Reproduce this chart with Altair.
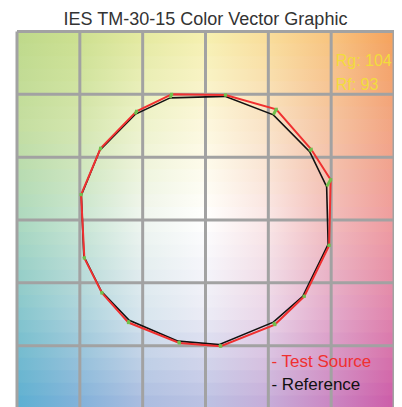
import altair as alt
import pandas as pd

# ---- data ----
test_x = [-0.270, 0.159, 0.563, 0.841, 0.996, 0.984, 0.786, 0.552, 0.121, -0.208, -0.613, -0.824, -0.964, -0.990, -0.835, -0.549]
test_y = [1.000, 0.995, 0.881, 0.563, 0.321, -0.202, -0.607, -0.832, -1.004, -0.978, -0.816, -0.581, -0.303, 0.202, 0.571, 0.865]
ref_x = [-0.282, 0.155, 0.540, 0.829, 0.964, 0.976, 0.774, 0.540, 0.107, -0.218, -0.607, -0.829, -0.968, -0.988, -0.841, -0.560]
ref_y = [0.972, 0.984, 0.837, 0.544, 0.266, -0.194, -0.607, -0.813, -0.992, -0.964, -0.798, -0.567, -0.290, 0.198, 0.556, 0.841]
grid_vals = [-1.5, -1.0, -0.5, 0.0, 0.5, 1.0, 1.5]
rg_value = 104
rf_value = 93

# background colour stops (style)
bg_rows_y = [1.5, 0.75, 0.0, -0.75, -1.5]
bg_colors = [
    ["#bed98a", "#cde08f", "#e4e99f", "#f6efae", "#f9dd98", "#f8c47e", "#f5a25b"],
    ["#c4dea0", "#d4e6ae", "#eef3cc", "#fdf8de", "#f9e2c6", "#f5c4a2", "#f2a482"],
    ["#acd9bf", "#c9e6d2", "#f0f6f0", "#ffffff", "#fae6e6", "#f2bcbc", "#ef9c9e"],
    ["#86c6cd", "#acd3dc", "#d8e6ee", "#ececf6", "#ebd6e8", "#e3aacb", "#e084ac"],
    ["#5aaed2", "#80b0da", "#a8badf", "#b9bfe2", "#c3aad8", "#c985c2", "#cc5aa8"],
]

XS = alt.Scale(domain=[-1.5, 1.5], nice=False, zero=False)
YS = alt.Scale(domain=[-1.5, 1.5], nice=False, zero=False)


def hex2rgb(h):
    h = h.lstrip("#")
    return [int(h[i:i + 2], 16) for i in (0, 2, 4)]


def mix(a, b, t):
    ra, rb = hex2rgb(a), hex2rgb(b)
    return "#%02x%02x%02x" % tuple(int(round(ra[i] + (rb[i] - ra[i]) * t)) for i in range(3))


def row_colors(yc):
    for k in range(len(bg_rows_y) - 1):
        y0, y1 = bg_rows_y[k], bg_rows_y[k + 1]
        if y1 <= yc <= y0:
            t = (y0 - yc) / (y0 - y1)
            return [mix(bg_colors[k][j], bg_colors[k + 1][j], t) for j in range(7)]
    return bg_colors[0] if yc > 0 else bg_colors[-1]


layers = []
N = 30
h = 3.0 / N
for s in range(N):
    ytop = 1.5 - s * h
    ybot = ytop - h
    cols = row_colors((ytop + ybot) / 2)
    grad = {
        "gradient": "linear", "x1": 0, "x2": 1, "y1": 0, "y2": 0,
        "stops": [{"offset": j / 6, "color": c} for j, c in enumerate(cols)],
    }
    d = pd.DataFrame({"x": [-1.5], "x2": [1.5], "y": [min(1.5, ytop + 0.004)], "y2": [ybot - 0.004]})
    layers.append(
        alt.Chart(d).mark_rect(color=grad, strokeWidth=0).encode(
            x=alt.X("x:Q", scale=XS, axis=None), x2="x2:Q",
            y=alt.Y("y:Q", scale=YS, axis=None), y2="y2:Q")
    )

gdf = pd.DataFrame({"v": grid_vals})
layers.append(alt.Chart(gdf).mark_rule(color="#a2a2a2", strokeWidth=3).encode(x=alt.X("v:Q", scale=XS, axis=None)))
layers.append(alt.Chart(gdf).mark_rule(color="#a2a2a2", strokeWidth=3).encode(y=alt.Y("v:Q", scale=YS, axis=None)))

n = len(test_x)
ref_df = pd.DataFrame({"x": ref_x + [ref_x[0]], "y": ref_y + [ref_y[0]], "i": list(range(n + 1))})
test_df = pd.DataFrame({"x": test_x + [test_x[0]], "y": test_y + [test_y[0]], "i": list(range(n + 1))})
vec_df = pd.DataFrame({"x": ref_x, "y": ref_y, "x2": test_x, "y2": test_y})

layers.append(alt.Chart(ref_df).mark_line(color="#111111", strokeWidth=1.6).encode(
    x=alt.X("x:Q", scale=XS, axis=None), y=alt.Y("y:Q", scale=YS, axis=None), order="i:Q"))
layers.append(alt.Chart(test_df).mark_line(color="#f03030", strokeWidth=2).encode(
    x=alt.X("x:Q", scale=XS, axis=None), y=alt.Y("y:Q", scale=YS, axis=None), order="i:Q"))
layers.append(alt.Chart(vec_df).mark_rule(color="#72c04c", strokeWidth=3).encode(
    x=alt.X("x:Q", scale=XS, axis=None), y=alt.Y("y:Q", scale=YS, axis=None), x2="x2:Q", y2="y2:Q"))
layers.append(alt.Chart(pd.DataFrame({"x": test_x, "y": test_y})).mark_square(color="#72c04c", size=10, opacity=1).encode(
    x=alt.X("x:Q", scale=XS, axis=None), y=alt.Y("y:Q", scale=YS, axis=None)))

txt_df = pd.DataFrame({
    "x": [1.036, 1.036, 0.525, 0.525, 0.0],
    "y": [1.226, 1.036, -1.168, -1.349, 1.5557],
    "t": [f"Rg: {rg_value}", f"Rf: {rf_value}", "- Test Source", "- Reference", "IES TM-30-15 Color Vector Graphic"],
    "c": ["#f2dc3c", "#f2dc3c", "#f03030", "#111111", "#333333"],
    "s": [16, 16, 17, 17, 18],
    "a": ["left", "left", "left", "left", "center"],
})
for k in range(len(txt_df)):
    r = txt_df.iloc[[k]]
    layers.append(alt.Chart(r).mark_text(
        align=r["a"].iloc[0], baseline="alphabetic", fontSize=int(r["s"].iloc[0]),
        color=r["c"].iloc[0], font="Liberation Sans").encode(
        x=alt.X("x:Q", scale=XS, axis=None), y=alt.Y("y:Q", scale=YS, axis=None), text="t:N"))

chart = alt.layer(*layers).properties(
    width=377, height=377,
    padding={"left": 9, "top": 23.5, "right": 0, "bottom": 0},
    autosize="none",
).configure_view(stroke=None)

chart.save("out.html", embed_options={"renderer": "svg", "actions": False})
